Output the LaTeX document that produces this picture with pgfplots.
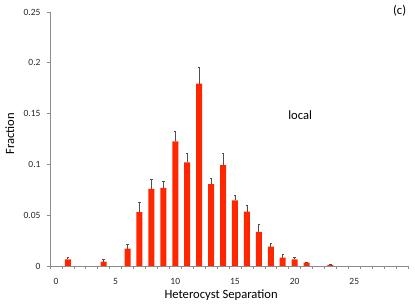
\documentclass[border=0pt]{standalone}
\usepackage{fontspec}
\setmainfont{Carlito}
\usepackage{pgfplots}
\pgfplotsset{compat=1.18}
\definecolor{barred}{HTML}{FF2600}
\definecolor{axgray}{HTML}{8C8C8C}
\definecolor{errgray}{HTML}{505050}
\begin{document}
\begin{tikzpicture}
\begin{axis}[
  scale only axis,
  width=358pt, height=254pt,
  xmin=-0.5, xmax=29.5,
  ymin=0, ymax=0.25,
  axis lines*=left,
  axis line style={axgray, line width=0.8pt},
  tick align=outside,
  xtick={0,5,...,25},
  minor xtick={-0.5,0.5,...,29.5},
  major x tick style={draw=none},
  minor x tick style={axgray, line width=0.6pt},
  minor tick length=3pt,
  ytick={0,0.05,...,0.25},
  y tick style={axgray, line width=0.6pt},
  major tick length=3pt,
  scaled y ticks=false,
  yticklabel style={/pgf/number format/fixed, /pgf/number format/precision=2},
  /pgf/number format/assume math mode=true,
  ticklabel style={font=\fontsize{9.5}{10}\selectfont, text=black!85},
  xticklabel style={yshift=-6pt},
  yticklabel style={xshift=-3pt},
  xlabel={Heterocyst Separation},
  ylabel={Fraction},
  label style={font=\fontsize{12.6}{14}\selectfont},
  xlabel style={at={(axis description cs:0.478,-0.114)}, anchor=center},
  ylabel style={at={(axis description cs:-0.112,0.52)}, anchor=center, rotate=0},
  ybar, bar width=6pt,
  clip=false,
]
\addplot[draw=none, fill=barred,
  error bars/.cd, y dir=plus, y explicit,
  error bar style={errgray, line width=0.8pt},
  error mark options={errgray, rotate=90, mark size=1.2pt, line width=0.8pt}]
  table[x=x, y=y, y error=e] {
x y e
1 0.0066 0.0016
4 0.0043 0.0023
6 0.0170 0.0043
7 0.0530 0.0093
8 0.0758 0.0095
9 0.0768 0.0062
10 0.1227 0.0102
11 0.1020 0.0090
12 0.1795 0.0155
13 0.0807 0.0056
14 0.0994 0.0116
15 0.0646 0.0046
16 0.0535 0.0065
17 0.0335 0.0078
18 0.0190 0.0033
19 0.0082 0.0033
20 0.0066 0.0016
21 0.0033 0.0007
23 0.0010 0.0006
};
\node[font=\fontsize{12.6}{14}\selectfont] at (axis cs:20.46,0.1486) {local};
\node[font=\fontsize{12.6}{14}\selectfont] at (axis cs:28.8,0.2515) {(c)};
\end{axis}
\pgfresetboundingbox
\path (current axis.south west) ++(-50pt,-39pt) rectangle ++(415pt,305pt);
\end{tikzpicture}
\end{document}
